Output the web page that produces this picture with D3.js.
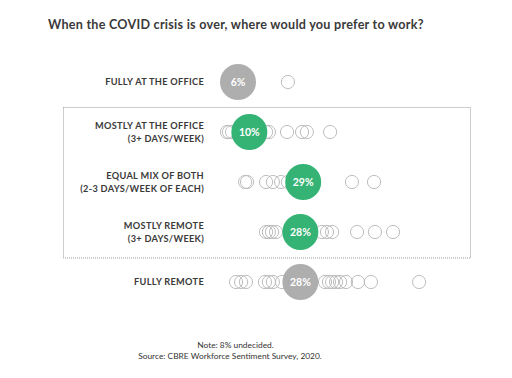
<!DOCTYPE html>
<html><head><meta charset="utf-8">
<script src="https://cdn.jsdelivr.net/npm/d3@7"></script>
<style>
html,body{margin:0;padding:0;background:#fff;}
svg{display:block;font-family:Lato, "Open Sans", sans-serif;}
</style></head>
<body>
<script>
// Categories (rows)
const categories = [
  ["FULLY AT THE OFFICE"],
  ["MOSTLY AT THE OFFICE", "(3+ DAYS/WEEK)"],
  ["EQUAL MIX OF BOTH", "(2-3 DAYS/WEEK OF EACH)"],
  ["MOSTLY REMOTE", "(3+ DAYS/WEEK)"],
  ["FULLY REMOTE"]
];
// Global (headline) share, %
const globalValues = [6, 10, 29, 28, 28];
// Which rows are highlighted (inside dotted box)
const highlighted = [false, true, true, true, false];
// Individual markets, %
const market0 = [23.6];
const market1 = [2.1, 2.8, 3.9, 15.9, 16.9, 23.3, 28.6, 30.3, 38.5];
const market2 = [8.5, 9.2, 15.9, 18.3, 21.2, 23.6, 46.2, 54.0];
const market3 = [15.9, 16.9, 18.0, 19.4, 35.6, 37.4, 39.2, 48.0, 54.3, 60.7];
const market4 = [5.3, 7.1, 8.8, 15.5, 16.9, 18.3, 21.5, 36.7, 38.1, 39.2, 40.6, 42.0, 44.1, 48.3, 52.9, 69.9];
const markets = [market0, market1, market2, market3, market4];
const title = "When the COVID crisis is over, where would you prefer to work?";
const notes = ["Note: 8% undecided.", "Source: CBRE Workforce Sentiment Survey, 2020."];

const W = 512, H = 378;
const svg = d3.select("body").append("svg").attr("width", W).attr("height", H);

const x = d3.scaleLinear().domain([0, 70]).range([221, 419.4]);
const y = d3.scalePoint().domain(d3.range(categories.length)).range([82, 282]);

svg.append("text").attr("x", 48).attr("y", 28.5)
  .attr("font-size", 12.6).attr("font-weight", 700).attr("fill", "#3a3a3a")
  .attr("letter-spacing", 0.25)
  .text(title);

// dotted box
svg.append("rect").attr("x", 63.5).attr("y", 107.5).attr("width", 407).attr("height", 150.5)
  .attr("fill", "none").attr("stroke", "#9a9a9a").attr("stroke-width", 1).attr("stroke-dasharray", "1,1");

// row labels
categories.forEach((lines, i) => {
  const t = svg.append("text").attr("x", 204).attr("text-anchor", "end")
    .attr("font-size", 9.2).attr("font-weight", 700).attr("fill", "#3a3a3a")
    .attr("letter-spacing", 0.3);
  const n = lines.length;
  lines.forEach((l, j) => {
    t.append("tspan").attr("x", 204)
      .attr("y", y(i) + 3.3 + (j - (n - 1) / 2) * 12.8)
      .text(l);
  });
});

// small circles
markets.forEach((arr, i) => {
  svg.append("g").selectAll("circle").data(arr).join("circle")
    .attr("cx", d => x(d)).attr("cy", y(i)).attr("r", 6.6)
    .attr("fill", "none").attr("stroke", "#bdbdbd").attr("stroke-width", 1);
});

// big circles
globalValues.forEach((v, i) => {
  svg.append("circle").attr("cx", x(v)).attr("cy", y(i)).attr("r", 18)
    .attr("fill", highlighted[i] ? "#35b374" : "#a7a7a7")
    .attr("fill-opacity", highlighted[i] ? 1 : 0.92);
  svg.append("text").attr("x", x(v)).attr("y", y(i) + 3.8).attr("text-anchor", "middle")
    .attr("font-size", 10.5).attr("font-weight", 700).attr("fill", "#fff")
    .text(v + "%");
});

// notes
svg.append("text").attr("x", 235.5).attr("y", 347.5).attr("text-anchor", "middle")
  .attr("font-size", 8.4).attr("fill", "#333").text(notes[0]);
svg.append("text").attr("x", 230).attr("y", 358.5).attr("text-anchor", "middle")
  .attr("font-size", 8.4).attr("fill", "#333").text(notes[1]);
</script>
</body></html>
